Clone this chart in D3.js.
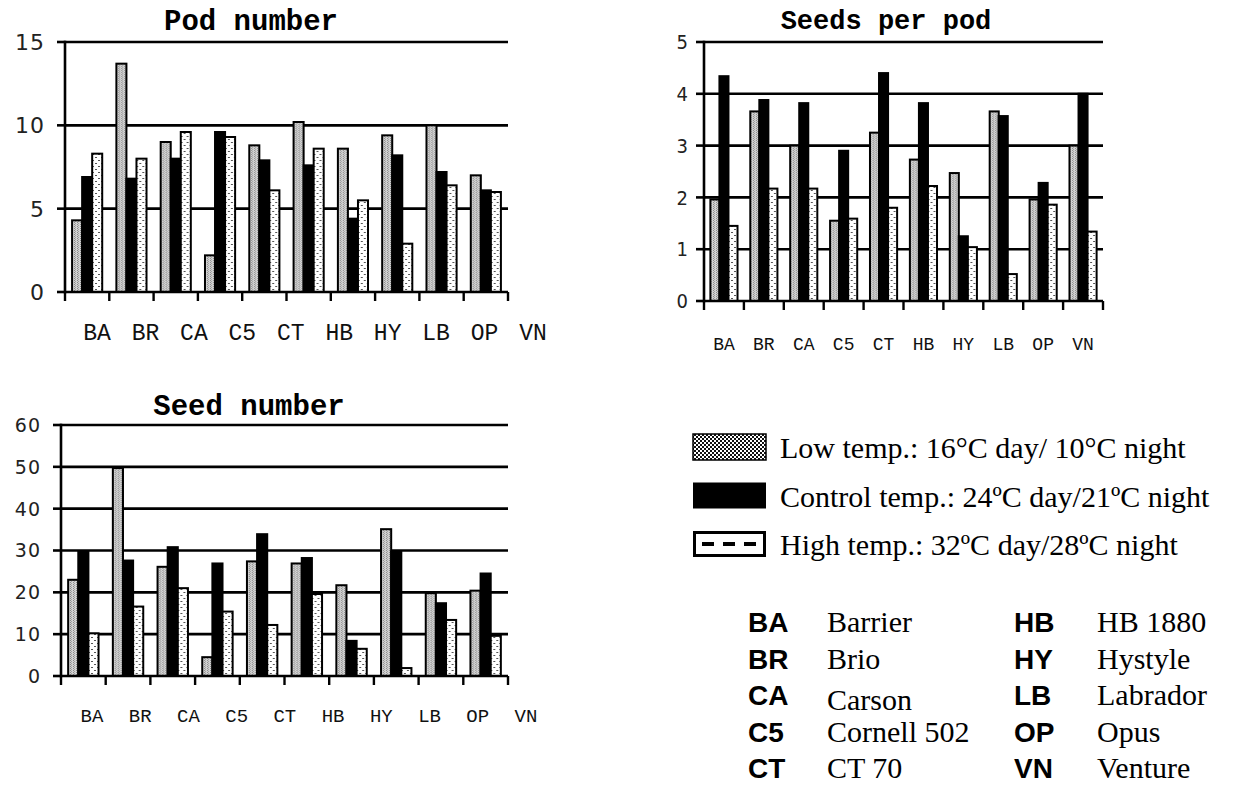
<!DOCTYPE html>
<html>
<head>
<meta charset="utf-8">
<script src="https://cdn.jsdelivr.net/npm/d3@7"></script>
<style>
  html, body { margin: 0; padding: 0; background: #fff; }
  svg { display: block; }
</style>
</head>
<body>
<svg id="chart" width="1260" height="791"></svg>
<script>
// ---------- DATA ----------
const categories = ["BA", "BR", "CA", "C5", "CT", "HB", "HY", "LB", "OP", "VN"];
const seriesNames = ["Low", "Control", "High"];

const podTicks = [0, 5, 10, 15];
const podLow     = [4.3, 13.7, 9.0, 2.2, 8.8, 10.2, 8.6, 9.4, 10.0, 7.0];
const podControl = [6.9, 6.8, 8.0, 9.6, 7.9, 7.6, 4.4, 8.2, 7.2, 6.1];
const podHigh    = [8.3, 8.0, 9.6, 9.3, 6.1, 8.6, 5.5, 2.9, 6.4, 6.0];

const sppTicks = [0, 1, 2, 3, 4, 5];
const sppLow     = [1.96, 3.66, 3.0, 1.55, 3.25, 2.73, 2.47, 3.66, 1.96, 3.0];
const sppControl = [4.34, 3.88, 3.82, 2.9, 4.4, 3.82, 1.25, 3.57, 2.28, 4.0];
const sppHigh    = [1.45, 2.17, 2.17, 1.59, 1.8, 2.22, 1.04, 0.52, 1.86, 1.34];

const snTicks = [0, 10, 20, 30, 40, 50, 60];
const snLow     = [23.0, 49.7, 26.1, 4.5, 27.4, 26.9, 21.7, 35.1, 19.8, 20.4];
const snControl = [29.8, 27.6, 30.8, 26.9, 33.9, 28.2, 8.4, 29.8, 17.4, 24.5];
const snHigh    = [10.2, 16.6, 21.0, 15.4, 12.2, 19.6, 6.5, 1.9, 13.4, 9.6];

const legendLabels = [
  "Low temp.: 16°C day/ 10°C night",
  "Control temp.: 24ºC day/21ºC night",
  "High temp.: 32ºC day/28ºC night"
];
const abbrCodes = ["BA", "BR", "CA", "C5", "CT", "HB", "HY", "LB", "OP", "VN"];
const abbrNames = ["Barrier", "Brio", "Carson", "Cornell 502", "CT 70",
                   "HB 1880", "Hystyle", "Labrador", "Opus", "Venture"];

// ---------- SETUP ----------
const svg = d3.select("#chart");
const defs = svg.append("defs");

// Low temp pattern (fine gray texture)
const pLow = defs.append("pattern").attr("id", "patLow")
  .attr("patternUnits", "userSpaceOnUse").attr("width", 3).attr("height", 2);
pLow.append("rect").attr("width", 3).attr("height", 2).attr("fill", "#d2d2d2");
pLow.append("rect").attr("x", 0).attr("y", 0).attr("width", 1).attr("height", 1).attr("fill", "#8a8a8a");
pLow.append("rect").attr("x", 1).attr("y", 1).attr("width", 1).attr("height", 1).attr("fill", "#a0a0a0");

// High temp pattern (white with small dashes)
const pHigh = defs.append("pattern").attr("id", "patHigh")
  .attr("patternUnits", "userSpaceOnUse").attr("width", 6).attr("height", 6);
pHigh.append("rect").attr("width", 6).attr("height", 6).attr("fill", "#ffffff");
pHigh.append("rect").attr("x", 0).attr("y", 1).attr("width", 2).attr("height", 1).attr("fill", "#555");
pHigh.append("rect").attr("x", 3).attr("y", 4).attr("width", 2).attr("height", 1).attr("fill", "#555");

// Legend checker pattern
const pChk = defs.append("pattern").attr("id", "patChk")
  .attr("patternUnits", "userSpaceOnUse").attr("width", 4).attr("height", 4);
pChk.append("rect").attr("width", 4).attr("height", 4).attr("fill", "#ffffff");
pChk.append("rect").attr("x", 0).attr("y", 0).attr("width", 2).attr("height", 2).attr("fill", "#111");
pChk.append("rect").attr("x", 2).attr("y", 2).attr("width", 2).attr("height", 2).attr("fill", "#111");

const fills = { Low: "url(#patLow)", Control: "#000", High: "url(#patHigh)" };
const monoFont = "'Liberation Mono', 'Courier New', monospace";

function drawPanel(cfg) {
  const g = svg.append("g");
  const x = d3.scaleBand().domain(categories).range([cfg.left, cfg.right]).padding(0);
  const x1 = d3.scaleBand().domain(seriesNames)
    .range([x.bandwidth() * 0.16, x.bandwidth() * 0.84]).padding(0);
  const y = d3.scaleLinear().domain([0, d3.max(cfg.ticks)]).range([cfg.bottom, cfg.top]);

  // gridlines
  g.append("g").selectAll("line").data(cfg.ticks.filter(t => t > 0)).join("line")
    .attr("x1", cfg.left).attr("x2", cfg.right)
    .attr("y1", d => y(d)).attr("y2", d => y(d))
    .attr("stroke", "#000").attr("stroke-width", 2.6);

  // bars
  const rows = categories.map((c, i) => ({
    cat: c,
    vals: seriesNames.map(s => ({ s, v: cfg.data[s][i] }))
  }));
  g.append("g").selectAll("g").data(rows).join("g")
    .attr("transform", d => `translate(${x(d.cat)},0)`)
    .selectAll("rect").data(d => d.vals).join("rect")
    .attr("x", d => x1(d.s))
    .attr("width", x1.bandwidth())
    .attr("y", d => y(d.v))
    .attr("height", d => y(0) - y(d.v))
    .attr("fill", d => fills[d.s])
    .attr("stroke", "#000").attr("stroke-width", 2);

  // left axis line + ticks
  g.append("line").attr("x1", cfg.left).attr("x2", cfg.left)
    .attr("y1", y(d3.max(cfg.ticks)) - 1.3).attr("y2", cfg.bottom + 1.3)
    .attr("stroke", "#000").attr("stroke-width", 2.6);
  g.append("g").selectAll("line").data(cfg.ticks).join("line")
    .attr("x1", cfg.left - 8).attr("x2", cfg.left)
    .attr("y1", d => y(d)).attr("y2", d => y(d))
    .attr("stroke", "#000").attr("stroke-width", 2.6);
  g.append("g").selectAll("text").data(cfg.ticks).join("text")
    .attr("x", cfg.yLabelX).attr("y", d => y(d))
    .attr("dy", "0.36em")
    .attr("text-anchor", "end")
    .attr("font-family", cfg.yFont)
    .attr("font-size", cfg.yFontSize)
    .attr("letter-spacing", cfg.yLetterSpacing || 0)
    .attr("fill", "#222")
    .text(d => d);

  // bottom axis line + boundary ticks
  g.append("line").attr("x1", cfg.left).attr("x2", cfg.right)
    .attr("y1", cfg.bottom).attr("y2", cfg.bottom)
    .attr("stroke", "#000").attr("stroke-width", 2.6);
  const bounds = categories.map(c => x(c)).concat([x(categories[categories.length - 1]) + x.bandwidth()]);
  g.append("g").selectAll("line").data(bounds).join("line")
    .attr("x1", d => d).attr("x2", d => d)
    .attr("y1", cfg.bottom).attr("y2", cfg.bottom + 9)
    .attr("stroke", "#000").attr("stroke-width", 2.4);

  // category labels
  const xl = cfg.labelRange
    ? d3.scalePoint().domain(categories).range(cfg.labelRange)
    : (c => x(c) + x.bandwidth() / 2);
  g.append("g").selectAll("text").data(categories).join("text")
    .attr("x", d => xl(d)).attr("y", cfg.labelY)
    .attr("text-anchor", "middle")
    .attr("font-family", monoFont)
    .attr("font-size", cfg.xFontSize)
    .attr("fill", "#111")
    .text(d => d);

  // title
  g.append("text").attr("x", cfg.titleX).attr("y", cfg.titleY)
    .attr("text-anchor", "middle")
    .attr("font-family", monoFont)
    .attr("font-weight", "bold")
    .attr("font-size", cfg.titleSize)
    .text(cfg.title);
}

drawPanel({
  title: "Pod number", titleX: 251, titleY: 30, titleSize: 29,
  left: 65, right: 508, top: 42, bottom: 292,
  ticks: podTicks,
  data: { Low: podLow, Control: podControl, High: podHigh },
  yLabelX: 45, yFont: "'DejaVu Sans', sans-serif", yFontSize: 22, yLetterSpacing: 1,
  labelRange: [97, 533], labelY: 340, xFontSize: 23
});

drawPanel({
  title: "Seeds per pod", titleX: 886, titleY: 29, titleSize: 27,
  left: 704, right: 1103, top: 42, bottom: 301,
  ticks: sppTicks,
  data: { Low: sppLow, Control: sppControl, High: sppHigh },
  yLabelX: 688, yFont: "'DejaVu Sans Condensed', 'DejaVu Sans', sans-serif", yFontSize: 20,
  labelRange: null, labelY: 350, xFontSize: 18
});

drawPanel({
  title: "Seed number", titleX: 249, titleY: 415, titleSize: 29,
  left: 61, right: 508, top: 425, bottom: 676,
  ticks: snTicks,
  data: { Low: snLow, Control: snControl, High: snHigh },
  yLabelX: 41, yFont: "'DejaVu Sans', sans-serif", yFontSize: 19, yLetterSpacing: 1,
  labelRange: [92, 526], labelY: 722, xFontSize: 19
});

// ---------- LEGEND (series) ----------
const leg = svg.append("g");
const legY = d3.scalePoint().domain(seriesNames).range([447, 544]);
const swW = 73, swH = 26, swX = 693;
seriesNames.forEach(s => {
  const cy = legY(s);
  if (s === "Low") {
    leg.append("rect").attr("x", swX).attr("y", cy - swH / 2).attr("width", swW).attr("height", swH)
      .attr("fill", "url(#patChk)").attr("stroke", "#000").attr("stroke-width", 1.5);
  } else if (s === "Control") {
    leg.append("rect").attr("x", swX).attr("y", cy - swH / 2).attr("width", swW).attr("height", swH)
      .attr("fill", "#000");
  } else {
    leg.append("rect").attr("x", swX + 1.5).attr("y", cy - swH / 2 + 1.5).attr("width", swW - 3).attr("height", swH - 3)
      .attr("fill", "#fff").attr("stroke", "#000").attr("stroke-width", 3);
    leg.append("line").attr("x1", swX + 9).attr("x2", swX + swW - 7).attr("y1", cy).attr("y2", cy)
      .attr("stroke", "#000").attr("stroke-width", 4).attr("stroke-dasharray", "12,9");
  }
  leg.append("text").attr("x", 780).attr("y", cy + 11)
    .attr("font-family", "'Liberation Serif', 'Times New Roman', serif")
    .attr("font-size", 30)
    .text(legendLabels[seriesNames.indexOf(s)]);
});

// ---------- LEGEND (abbreviations) ----------
const abbrRow = d3.scalePoint().domain(d3.range(5)).range([632, 778]);
const ab = svg.append("g");
abbrCodes.forEach((code, i) => {
  const col = Math.floor(i / 5), row = i % 5;
  const codeX = col === 0 ? 748 : 1014;
  const nameX = col === 0 ? 827 : 1097;
  const by = abbrRow(row);
  ab.append("text").attr("x", codeX).attr("y", by)
    .attr("font-family", "'Liberation Sans', Arial, sans-serif")
    .attr("font-weight", "bold").attr("font-size", 28)
    .text(code);
  ab.append("text").attr("x", nameX).attr("y", by + (code === "CA" ? 5 : 0))
    .attr("font-family", "'Liberation Serif', 'Times New Roman', serif")
    .attr("font-size", 30)
    .text(abbrNames[i]);
});
</script>
</body>
</html>
